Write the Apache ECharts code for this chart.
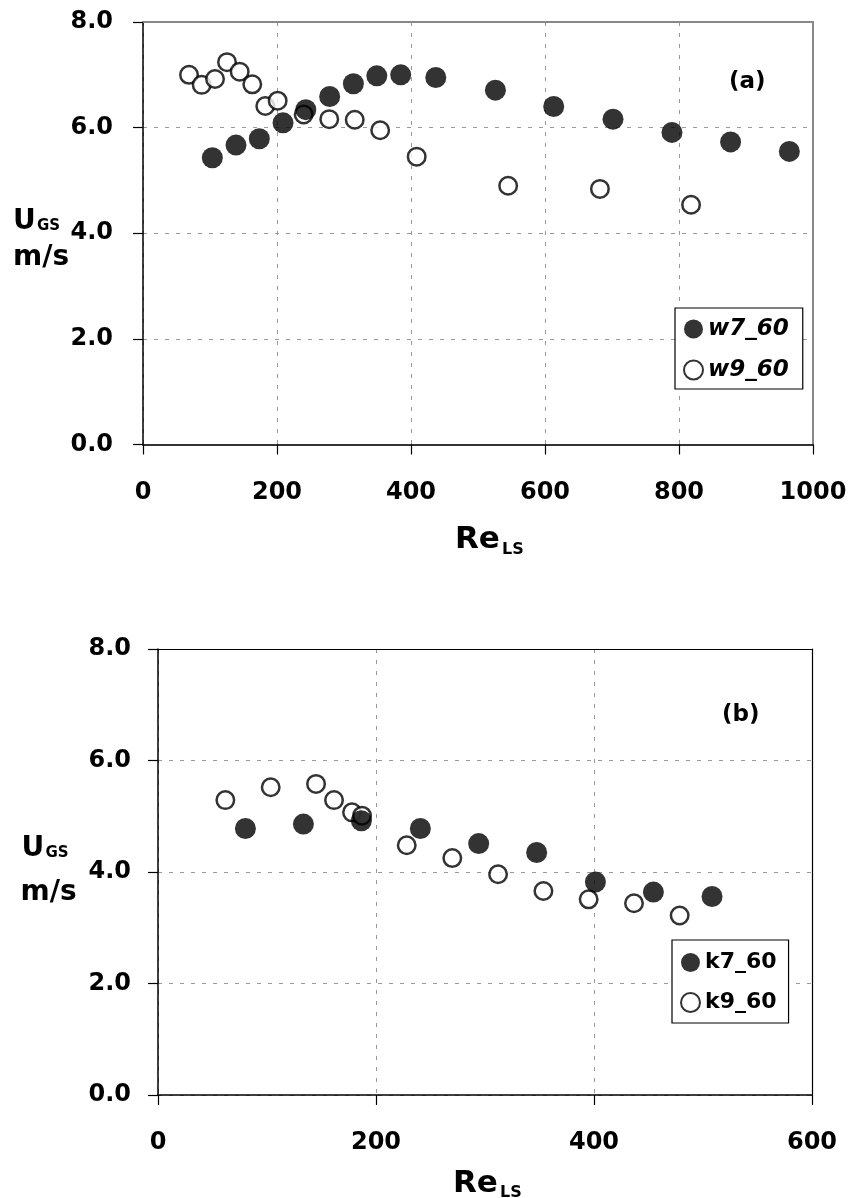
<!DOCTYPE html>
<html>
<head>
<meta charset="utf-8">
<script src="https://cdn.jsdelivr.net/npm/echarts@6/dist/echarts.min.js"></script>
<style>
html,body{margin:0;padding:0;background:#fff;}
#c{width:850px;height:1198px;}
</style>
</head>
<body>
<div id="c"></div>
<script>
// ---- data: chart (a) ----
const w7_x = [103.5, 138.8, 173.6, 209, 243, 278.6, 314, 349, 384.6, 437, 526, 613, 701.5, 789.5, 877, 964.7];
const w7_y = [5.43, 5.67, 5.79, 6.09, 6.34, 6.59, 6.83, 6.98, 7.00, 6.95, 6.71, 6.40, 6.16, 5.91, 5.73, 5.55];
const w9_x = [68.7, 87.6, 107.5, 125.4, 144.3, 163.1, 182.5, 201, 239.8, 278, 316, 354, 408.5, 545, 682, 818];
const w9_y = [7.00, 6.81, 6.92, 7.24, 7.06, 6.82, 6.41, 6.51, 6.25, 6.16, 6.15, 5.95, 5.45, 4.90, 4.84, 4.54];
// ---- data: chart (b) ----
const k7_x = [80.2, 133.4, 186.6, 240.7, 294.2, 347.4, 401.3, 454.5, 508.3];
const k7_y = [4.78, 4.86, 4.92, 4.78, 4.51, 4.35, 3.82, 3.64, 3.56];
const k9_x = [61.8, 103.4, 145, 161.5, 178, 187.2, 228.2, 270, 312, 353.6, 395.1, 436.7, 478.6];
const k9_y = [5.29, 5.52, 5.58, 5.29, 5.07, 5.01, 4.48, 4.25, 3.96, 3.66, 3.51, 3.44, 3.22];
// ---- axis settings ----
const xA = {min: 0, max: 1000, interval: 200};
const xB = {min: 0, max: 600, interval: 200};
const yAll = {min: 0, max: 8, interval: 2};
const seriesNames = ['w7_60', 'w9_60', 'k7_60', 'k9_60'];

const FONT = '"DejaVu Sans", "Liberation Sans", Arial, sans-serif';
const pairs = (xs, ys) => xs.map((x, i) => [x, ys[i]]);

const chart = echarts.init(document.getElementById('c'), null, {renderer: 'canvas'});

const gridDash = {color: '#999', width: 1, type: [4, 7]};

function xAxisCfg(idx, r, lineColor, lineW) {
  return {
    type: 'value', gridIndex: idx, min: r.min, max: r.max, interval: r.interval,
    axisLine: {show: true, onZero: false, lineStyle: {color: lineColor, width: lineW}},
    axisTick: {show: true, length: 10, lineStyle: {color: '#000', width: 1.2}},
    axisLabel: {color: '#000', fontFamily: FONT, fontWeight: 'bold', fontSize: 24, lineHeight: 24, margin: 36,
      formatter: v => String(v)},
    splitLine: {show: true, lineStyle: gridDash}
  };
}
function yAxisCfg(idx, margin) {
  return {
    type: 'value', gridIndex: idx, min: yAll.min, max: yAll.max, interval: yAll.interval,
    axisLine: {show: true, onZero: false, lineStyle: {color: '#000', width: 1.5}},
    axisTick: {show: true, length: 10, lineStyle: {color: '#000', width: 1.2}},
    axisLabel: {color: '#000', fontFamily: FONT, fontWeight: 'bold', fontSize: 24, margin: margin,
      formatter: v => v.toFixed(1)},
    splitLine: {show: true, lineStyle: gridDash}
  };
}
// border-only axes (top / right frame of each plot)
function frameX(idx, r, color, w) {
  return {type: 'value', gridIndex: idx, position: 'top', min: r.min, max: r.max,
    axisLine: {show: true, onZero: false, lineStyle: {color: color, width: w}},
    axisTick: {show: false}, axisLabel: {show: false}, splitLine: {show: false}};
}
function frameY(idx, color, w) {
  return {type: 'value', gridIndex: idx, position: 'right', min: yAll.min, max: yAll.max,
    axisLine: {show: true, onZero: false, lineStyle: {color: color, width: w}},
    axisTick: {show: false}, axisLabel: {show: false}, splitLine: {show: false}};
}

const filled = {color: '#000'};
const open = {color: '#fff', borderColor: '#000', borderWidth: 2.5};

function txt(text, x, y, size, extra) {
  return Object.assign({
    type: 'text', x: x, y: y, z: 100,
    style: {text: text, fill: '#000', font: 'bold ' + size + 'px ' + FONT, align: 'left', verticalAlign: 'middle'}
  }, extra || {});
}

const option = {
  backgroundColor: '#fff',
  animation: false,
  grid: [
    {left: 143, right: 37, top: 22, height: 422.5},
    {left: 158, right: 38, top: 649, height: 446}
  ],
  xAxis: [xAxisCfg(0, xA, '#333', 2), xAxisCfg(1, xB, '#000', 1.5), frameX(0, xA, '#888', 2), frameX(1, xB, '#000', 1.2)],
  yAxis: [yAxisCfg(0, 30), yAxisCfg(1, 27), frameY(0, '#888', 2), frameY(1, '#000', 1.2)],
  legend: [
    {
      data: [seriesNames[0], seriesNames[1]],
      orient: 'vertical', left: 675, top: 308,
      itemWidth: 19, itemHeight: 19, itemGap: 17,
      padding: [9, 14, 7, 8],
      borderColor: '#000', borderWidth: 1.2, backgroundColor: '#fff',
      textStyle: {color: '#000', fontFamily: FONT, fontWeight: 'bold', fontStyle: 'italic', fontSize: 23, lineHeight: 24}
    },
    {
      data: [seriesNames[2], seriesNames[3]],
      orient: 'vertical', left: 672, top: 940,
      itemWidth: 19, itemHeight: 19, itemGap: 17,
      padding: [11, 12, 9, 8],
      borderColor: '#000', borderWidth: 1.2, backgroundColor: '#fff',
      textStyle: {color: '#000', fontFamily: FONT, fontWeight: 'bold', fontSize: 22, lineHeight: 23}
    }
  ],
  series: [
    {name: seriesNames[1], type: 'scatter', xAxisIndex: 0, yAxisIndex: 0, symbol: 'circle', symbolSize: 17.5, itemStyle: open, data: pairs(w9_x, w9_y), z: 3},
    {name: seriesNames[0], type: 'scatter', xAxisIndex: 0, yAxisIndex: 0, symbol: 'circle', symbolSize: 21, itemStyle: filled, data: pairs(w7_x, w7_y), z: 4},
    {name: seriesNames[3], type: 'scatter', xAxisIndex: 1, yAxisIndex: 1, symbol: 'circle', symbolSize: 17.5, itemStyle: open, data: pairs(k9_x, k9_y), z: 3},
    {name: seriesNames[2], type: 'scatter', xAxisIndex: 1, yAxisIndex: 1, symbol: 'circle', symbolSize: 21, itemStyle: filled, data: pairs(k7_x, k7_y), z: 4}
  ],
  graphic: [
    // chart (a) axis titles
    txt('U', 13, 222, 28),
    txt('GS', 37, 226, 15),
    txt('m/s', 13, 258, 28),
    txt('Re', 455, 540, 31),
    txt('LS', 502, 550, 16),
    txt('(a)', 729, 82, 23),
    // chart (b) axis titles
    txt('U', 21.5, 849, 28),
    txt('GS', 45.5, 853, 15),
    txt('m/s', 20.5, 893, 28),
    txt('Re', 453, 1184, 31),
    txt('LS', 500, 1193, 16),
    txt('(b)', 722, 715, 23)
  ]
};
chart.setOption(option);
</script>
</body>
</html>
